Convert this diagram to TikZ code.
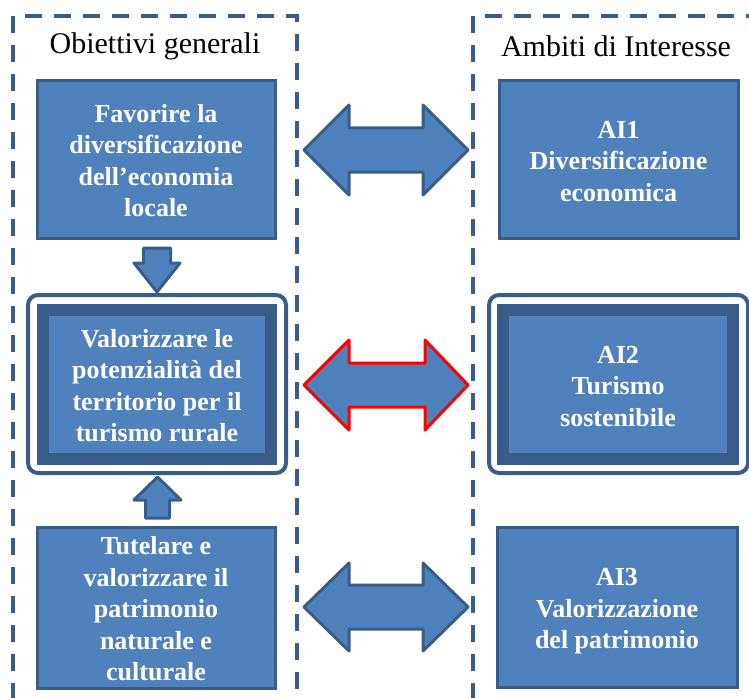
\documentclass[tikz,border=0pt]{standalone}
\usepackage{fontspec}
\setmainfont{Liberation Serif}
\definecolor{fillb}{HTML}{4F81BD}
\definecolor{edgeb}{HTML}{385D8A}
\newcommand\topstr{\rule{0pt}{26pt}}
\newcommand\botstr{\rule[-6pt]{0pt}{6pt}}
\begin{document}
\begin{tikzpicture}[x=1pt,y=-1pt,
  frame/.style={draw=edgeb, line width=4pt, dash pattern=on 17pt off 12pt},
  title/.style={font=\fontsize{30}{34}\selectfont, text=black, inner sep=0pt},
  box/.style={draw=edgeb, fill=fillb, line width=3pt, inner sep=0pt, align=center,
    text=white, font=\fontsize{26}{31.5}\selectfont\bfseries},
  hbox/.style={draw=edgeb, fill=fillb, line width=12pt, inner sep=0pt, align=center,
    text=white, font=\fontsize{26}{31.5}\selectfont\bfseries},
  outerbox/.style={draw=edgeb, fill=white, line width=4pt, rounded corners=10pt, inner sep=0pt},
  barrow/.style={draw=edgeb, fill=fillb, line width=3pt, line join=round},
  redarrow/.style={draw=red, fill=fillb, line width=3pt, line join=round}
]
\useasboundingbox (0,0) rectangle (749,698);
% frames
\draw[frame] (13,700) -- (13,16) -- (297,16) -- (297,700);
\draw[frame] (473,700) -- (473,16) -- (760,16);
\node[title] (t1) at (155,46) {Obiettivi generali};
\node[title] (t2) at (616,46) {Ambiti di Interesse};
% left column
\node[box, minimum width=238pt, minimum height=157pt] (og1) at (156,159.5)
  {\topstr Favorire la\\diversificazione\\dell’economia\\locale\botstr};
\node[outerbox, minimum width=258pt, minimum height=178pt] (og2o) at (157,384) {};
\node[hbox, minimum width=228pt, minimum height=149pt] (og2) at (157,384.5)
  {\topstr Valorizzare le\\potenzialità del\\territorio per il\\turismo rurale\botstr};
\node[box, minimum width=238pt, minimum height=161pt] (og3) at (156,607.5)
  {\topstr Tutelare e\\valorizzare il\\patrimonio\\naturale e\\culturale\botstr};
% right column
\node[box, minimum width=239pt, minimum height=157pt] (ai1) at (618.5,159.5)
  {\topstr AI1\\Diversificazione\\economica\botstr};
\node[outerbox, minimum width=259pt, minimum height=178pt] (ai2o) at (618.5,384) {};
\node[hbox, minimum width=230pt, minimum height=149pt] (ai2) at (618,384.5)
  {\topstr AI2\\Turismo\\sostenibile\botstr};
\node[box, minimum width=240pt, minimum height=160pt] (ai3) at (617,607)
  {\topstr AI3\\Valorizzazione\\del patrimonio\botstr};
% vertical arrows
\coordinate (dA) at (157,248);
\draw[barrow] (dA) ++(-13.5,0) -- ++(27,0) -- ++(0,15) -- ++(9.5,0) -- ++(-23,29) -- ++(-23,-29) -- ++(9.5,0) -- cycle;
\coordinate (uA) at (157.5,477);
\draw[barrow] (uA) -- ++(23.5,23) -- ++(-11.5,0) -- ++(0,18) -- ++(-24,0) -- ++(0,-18) -- ++(-11.5,0) -- cycle;
% horizontal double arrows
\coordinate (h1) at (304,150);
\coordinate (h2) at (304,385);
\coordinate (h3) at (304,607);
\draw[barrow] (h1) -- ++(45,-45) -- ++(0,23) -- ++(74,0) -- ++(0,-23) -- ++(45,45) -- ++(-45,45) -- ++(0,-23) -- ++(-74,0) -- ++(0,23) -- cycle;
\draw[redarrow] (h2) -- ++(45,-45) -- ++(0,23) -- ++(76,0) -- ++(0,-23) -- ++(43,45) -- ++(-43,45) -- ++(0,-23) -- ++(-76,0) -- ++(0,23) -- cycle;
\draw[barrow] (h3) -- ++(45,-44) -- ++(0,22) -- ++(74,0) -- ++(0,-22) -- ++(45,44) -- ++(-45,44) -- ++(0,-22) -- ++(-74,0) -- ++(0,22) -- cycle;
\end{tikzpicture}
\end{document}
